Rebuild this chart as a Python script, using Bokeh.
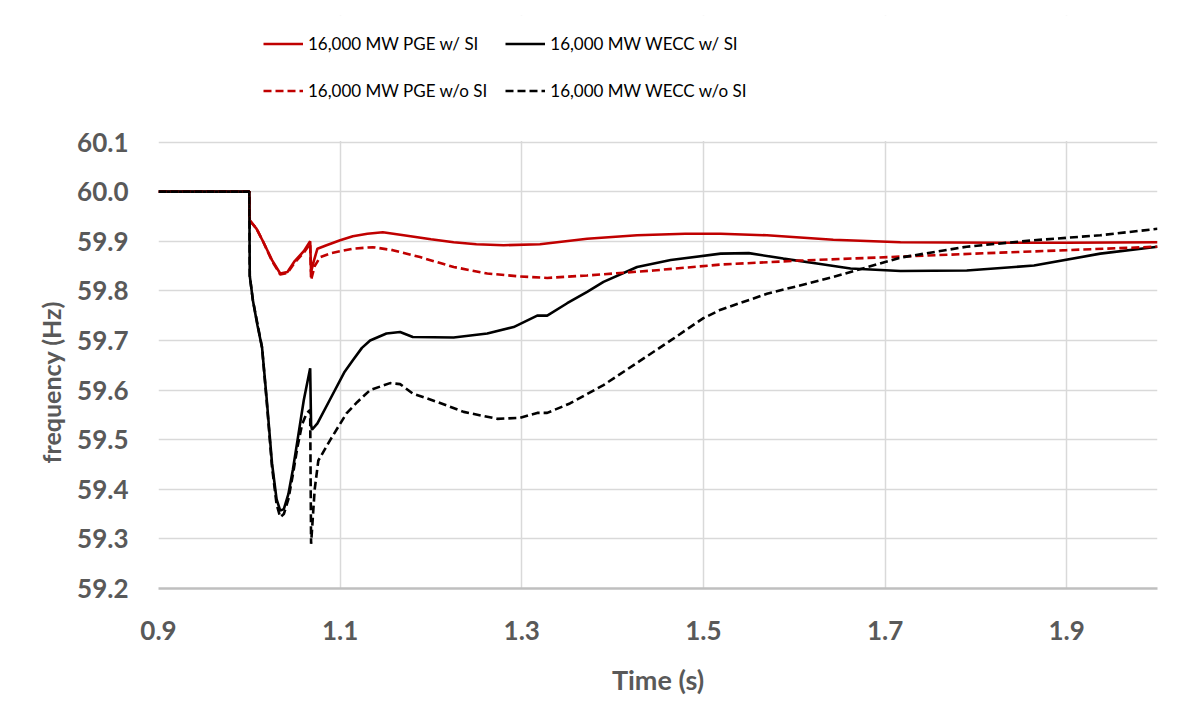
from bokeh.plotting import figure
from bokeh.models import (Legend, LegendItem, FixedTicker, Range1d, CustomJSTickFormatter,
                          BoxAnnotation, Title)
from bokeh.embed import file_html
from bokeh.resources import INLINE

# ---- data ----
x_ticks = [0.9, 1.1, 1.3, 1.5, 1.7, 1.9]
y_ticks = [59.2, 59.3, 59.4, 59.5, 59.6, 59.7, 59.8, 59.9, 60.0, 60.1]

pge_si_t = [0.90, 1.000, 1.0005, 1.008, 1.015, 1.025, 1.034, 1.042, 1.050, 1.060, 1.067, 1.068,
            1.071, 1.075, 1.085, 1.100, 1.114, 1.130, 1.147, 1.170, 1.200, 1.225, 1.250, 1.280,
            1.320, 1.372, 1.427, 1.480, 1.519, 1.570, 1.643, 1.717, 1.827, 1.900, 2.000]
pge_si_f = [60.0, 60.0, 59.942, 59.925, 59.90, 59.862, 59.835, 59.838, 59.860, 59.880, 59.900, 59.838,
            59.860, 59.885, 59.892, 59.902, 59.910, 59.915, 59.918, 59.912, 59.904, 59.898, 59.894, 59.892,
            59.894, 59.905, 59.912, 59.915, 59.915, 59.912, 59.903, 59.898, 59.897, 59.897, 59.898]

pge_nosi_t = [0.90, 1.000, 1.0005, 1.008, 1.015, 1.025, 1.034, 1.042, 1.050, 1.060, 1.067, 1.068,
              1.072, 1.078, 1.090, 1.114, 1.136, 1.158, 1.188, 1.225, 1.262, 1.298, 1.328, 1.372,
              1.445, 1.519, 1.607, 1.717, 1.827, 1.900, 2.000]
pge_nosi_f = [60.0, 60.0, 59.942, 59.925, 59.90, 59.860, 59.833, 59.836, 59.857, 59.877, 59.895, 59.822,
              59.850, 59.868, 59.876, 59.885, 59.888, 59.882, 59.868, 59.848, 59.835, 59.829, 59.826, 59.831,
              59.841, 59.853, 59.861, 59.869, 59.877, 59.882, 59.889]

wecc_si_t = [0.90, 1.000, 1.0005, 1.004, 1.009, 1.014, 1.019, 1.025, 1.030, 1.034, 1.038, 1.043,
             1.048, 1.053, 1.060, 1.067, 1.068, 1.069, 1.075, 1.090, 1.105, 1.114, 1.124, 1.133,
             1.151, 1.166, 1.180, 1.225, 1.262, 1.291, 1.317, 1.328, 1.350, 1.372, 1.390, 1.427,
             1.464, 1.519, 1.550, 1.588, 1.625, 1.662, 1.717, 1.790, 1.864, 1.937, 2.000]
wecc_si_f = [60.0, 60.0, 59.83, 59.78, 59.73, 59.686, 59.585, 59.452, 59.38, 59.357, 59.36, 59.39,
             59.44, 59.498, 59.58, 59.644, 59.53, 59.52, 59.533, 59.585, 59.637, 59.66, 59.685, 59.70,
             59.714, 59.717, 59.707, 59.706, 59.714, 59.727, 59.75, 59.75, 59.775, 59.798, 59.818, 59.848,
             59.862, 59.875, 59.876, 59.865, 59.855, 59.845, 59.840, 59.841, 59.851, 59.875, 59.889]

wecc_nosi_t = [0.90, 1.000, 1.0005, 1.004, 1.014, 1.019, 1.025, 1.030, 1.034, 1.038, 1.043, 1.048,
               1.053, 1.058, 1.063, 1.067, 1.068, 1.072, 1.076, 1.089, 1.107, 1.119, 1.133, 1.155,
               1.166, 1.180, 1.207, 1.236, 1.273, 1.298, 1.317, 1.328, 1.353, 1.390, 1.427, 1.464,
               1.500, 1.519, 1.570, 1.643, 1.717, 1.790, 1.864, 1.937, 2.000]
wecc_nosi_f = [60.0, 60.0, 59.83, 59.78, 59.686, 59.58, 59.445, 59.37, 59.344, 59.35, 59.38, 59.43,
               59.485, 59.53, 59.553, 59.56, 59.29, 59.40, 59.458, 59.499, 59.553, 59.576, 59.60, 59.614,
               59.612, 59.593, 59.576, 59.556, 59.542, 59.544, 59.554, 59.554, 59.573, 59.61, 59.655, 59.70,
               59.745, 59.762, 59.794, 59.828, 59.867, 59.889, 59.902, 59.912, 59.925]

labels = ["16,000 MW PGE w/ SI", "16,000 MW WECC w/ SI",
          "16,000 MW PGE w/o SI", "16,000 MW WECC w/o SI"]

RED = "#c00000"
BLACK = "#000000"
GRAY = "#595959"
GRID = "#d9d9d9"

Y_MIN, Y_MAX = 59.2, 60.1
Y_TOP = 60.355   # frame extends above the plotted range to hold the legend

p = figure(width=1170, height=715, output_backend="svg", toolbar_location=None,
           x_range=Range1d(0.9, 2.0), y_range=Range1d(Y_MIN, Y_TOP),
           min_border_left=158, min_border_right=13, min_border_top=15, min_border_bottom=127)
p.outline_line_color = None
p.background_fill_color = "white"

r1 = p.line(pge_si_t, pge_si_f, line_color=RED, line_width=2.6)
r2 = p.line(wecc_si_t, wecc_si_f, line_color=BLACK, line_width=2.6)
r3 = p.line(pge_nosi_t, pge_nosi_f, line_color=RED, line_width=2.6, line_dash="8 4")
r4 = p.line(wecc_nosi_t, wecc_nosi_f, line_color=BLACK, line_width=2.6, line_dash="8 4")

# white cover for the vertical gridlines above the top tick
p.add_layout(BoxAnnotation(bottom=Y_MAX + 0.002, fill_color="white", fill_alpha=1.0,
                           line_color=None, level="glyph"))

p.xaxis.ticker = FixedTicker(ticks=x_ticks)
p.yaxis.ticker = FixedTicker(ticks=y_ticks)
p.yaxis.formatter = CustomJSTickFormatter(code="return tick.toFixed(1);")
p.xaxis.formatter = CustomJSTickFormatter(code="return tick.toFixed(1);")

for ax in (p.xaxis, p.yaxis):
    ax.major_tick_line_color = None
    ax.minor_tick_line_color = None
    ax.major_tick_out = 0
    ax.major_tick_in = 0
    ax.minor_tick_out = 0
    ax.major_label_text_font = "Lato"
    ax.major_label_text_font_style = "bold"
    ax.major_label_text_font_size = "26px"
    ax.major_label_text_color = GRAY
    ax.axis_label_text_font = "Lato"
    ax.axis_label_text_font_style = "bold"
    ax.axis_label_text_color = GRAY

p.xaxis.axis_label_text_font_size = "27px"
p.xaxis.axis_line_color = "#bfbfbf"
p.xaxis.axis_line_width = 2.5
p.yaxis.axis_line_color = None
p.xaxis.major_label_standoff = 32
p.yaxis.major_label_standoff = 30
p.xaxis.axis_label = "Time (s)"
p.xaxis.axis_label_standoff = 20

# y-axis title placed against the plotted range (not the extended frame)
ytitle = Title(text="frequency (Hz)", align="left", offset=125, standoff=18,
               text_font="Lato", text_font_style="bold", text_font_size="25px",
               text_color=GRAY)
p.add_layout(ytitle, "left")

p.xgrid.grid_line_color = GRID
p.ygrid.grid_line_color = GRID
p.xgrid.grid_line_width = 1.5
p.ygrid.grid_line_width = 1.5

# column-major fill: column 1 = PGE, column 2 = WECC
legend = Legend(items=[LegendItem(label=labels[0], renderers=[r1]),
                       LegendItem(label=labels[2], renderers=[r3]),
                       LegendItem(label=labels[1], renderers=[r2]),
                       LegendItem(label=labels[3], renderers=[r4])],
                ncols=2, location=(105, 483))
legend.margin = 0
legend.padding = 0
legend.border_line_color = None
legend.background_fill_alpha = 0
legend.glyph_width = 40
legend.glyph_height = 29
legend.label_height = 29
legend.label_standoff = 5
legend.spacing = 18
legend.label_text_font = "Lato"
legend.label_text_font_size = "17px"
legend.label_text_color = "#000000"
p.add_layout(legend)

open("out.html", "w").write(file_html(p, INLINE))
